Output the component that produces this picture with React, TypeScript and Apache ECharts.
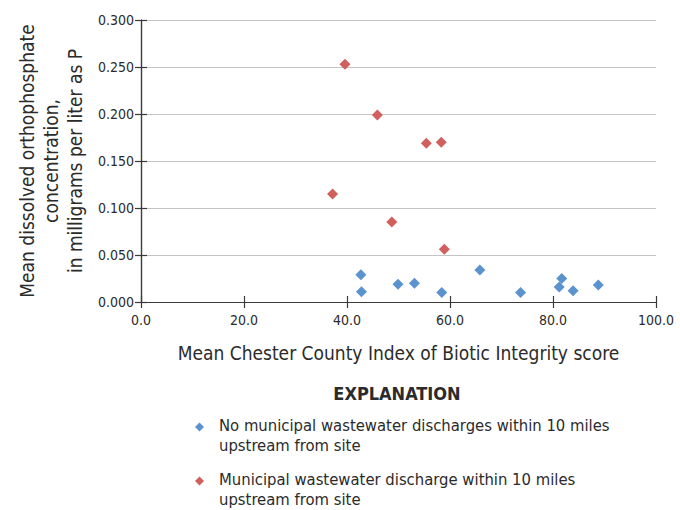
import React, { useEffect, useRef } from "react";
import * as echarts from "echarts";

const noDischargeName = "No municipal wastewater discharges within 10 miles upstream from site";
const dischargeName = "Municipal wastewater discharge within 10 miles upstream from site";

const noDischargeX = [42.7, 42.8, 49.9, 53.1, 58.4, 65.8, 73.7, 81.2, 81.7, 83.9, 88.8];
const noDischargeY = [0.029, 0.011, 0.019, 0.020, 0.010, 0.034, 0.010, 0.016, 0.025, 0.012, 0.018];

const dischargeX = [37.2, 39.6, 45.9, 48.7, 55.4, 58.3, 58.9];
const dischargeY = [0.115, 0.253, 0.199, 0.085, 0.169, 0.170, 0.056];

const xMin = 0, xMax = 100, xStep = 20;
const yMin = 0, yMax = 0.3, yStep = 0.05;

const xTitle = "Mean Chester County Index of Biotic Integrity score";
const yTitle = "Mean dissolved orthophosphate\nconcentration,\nin milligrams per liter as P";
const legendTitle = "EXPLANATION";

const FONT = "'Liberation Sans Narrow', 'DejaVu Sans Condensed', 'Roboto', sans-serif";
const TEXT = "#2b2b2b";
const AXIS = "#3a3a3a";
const BLUE = "#5b93cf";
const RED = "#d0605e";

const legendIcon = "path://M0,0M4.5,7.5L9,12L4.5,16.5L0,12ZM19,40";

export default function App() {
  const ref = useRef<HTMLDivElement>(null);
  useEffect(() => {
    if (!ref.current) return;
    const chart = echarts.init(ref.current, undefined, { renderer: "svg" });
    const pts = (xs: number[], ys: number[]) => xs.map((x, i) => [x, ys[i]]);
    const axisCommon = {
      axisLine: { show: true, lineStyle: { color: AXIS, width: 1.2 } },
      axisTick: { show: true, inside: true, length: 6, lineStyle: { color: AXIS, width: 1.2 } },
    };
    chart.setOption({
      animation: false,
      textStyle: { fontFamily: FONT, color: TEXT },
      grid: { left: 141, right: 24, top: 20, bottom: 208, containLabel: false },
      graphic: [
        {
          type: "text",
          x: 397,
          y: 393,
          style: {
            text: legendTitle,
            fontFamily: FONT,
            fontWeight: "bold",
            fontSize: 18,
            fill: TEXT,
            align: "center",
            verticalAlign: "middle",
          },
        },
      ],
      legend: {
        orient: "vertical",
        left: 195,
        top: 415,
        height: 110,
        itemWidth: 19,
        itemHeight: 40,
        itemGap: 14,
        padding: 0,
        data: [
          { name: noDischargeName, icon: legendIcon },
          { name: dischargeName, icon: legendIcon },
        ],
        formatter: (name: string) => {
          const idx = name.indexOf(" upstream");
          return idx > 0 ? name.slice(0, idx) + "\n" + name.slice(idx + 1) : name;
        },
        textStyle: { fontFamily: FONT, fontSize: 16.5, lineHeight: 20, color: TEXT },
      },
      xAxis: [
        {
          type: "value",
          min: xMin,
          max: xMax,
          interval: xStep,
          name: xTitle,
          nameLocation: "middle",
          nameGap: 41,
          nameTextStyle: { fontFamily: FONT, fontSize: 19, color: TEXT },
          ...axisCommon,
          axisLabel: {
            formatter: (v: number) => v.toFixed(1),
            fontFamily: FONT,
            fontSize: 14,
            color: TEXT,
            margin: 11,
          },
          splitLine: { show: false },
        },
        {
          type: "value",
          position: "top",
          min: xMin,
          max: xMax,
          interval: xStep,
          ...axisCommon,
          axisLabel: { show: false },
          splitLine: { show: false },
        },
      ],
      yAxis: [
        {
          type: "value",
          min: yMin,
          max: yMax,
          interval: yStep,
          name: yTitle,
          nameLocation: "middle",
          nameGap: 50,
          nameRotate: 90,
          nameTextStyle: { fontFamily: FONT, fontSize: 19, color: TEXT, lineHeight: 24 },
          ...axisCommon,
          axisLabel: {
            formatter: (v: number) => v.toFixed(3),
            fontFamily: FONT,
            fontSize: 14,
            color: TEXT,
            margin: 7,
          },
          splitLine: { show: true, lineStyle: { color: "#c4c4c4", width: 1.2 } },
        },
        {
          type: "value",
          position: "right",
          min: yMin,
          max: yMax,
          interval: yStep,
          ...axisCommon,
          axisLabel: { show: false },
          splitLine: { show: false },
        },
      ],
      series: [
        {
          name: noDischargeName,
          type: "scatter",
          symbol: "diamond",
          symbolSize: 11,
          itemStyle: { color: BLUE, opacity: 1 },
          data: pts(noDischargeX, noDischargeY),
        },
        {
          name: dischargeName,
          type: "scatter",
          symbol: "diamond",
          symbolSize: 11,
          itemStyle: { color: RED, opacity: 1 },
          data: pts(dischargeX, dischargeY),
        },
      ],
    });
    return () => chart.dispose();
  }, []);
  return <div ref={ref} style={{ position: "absolute", left: 0, top: 0, width: 680, height: 510 }} />;
}
